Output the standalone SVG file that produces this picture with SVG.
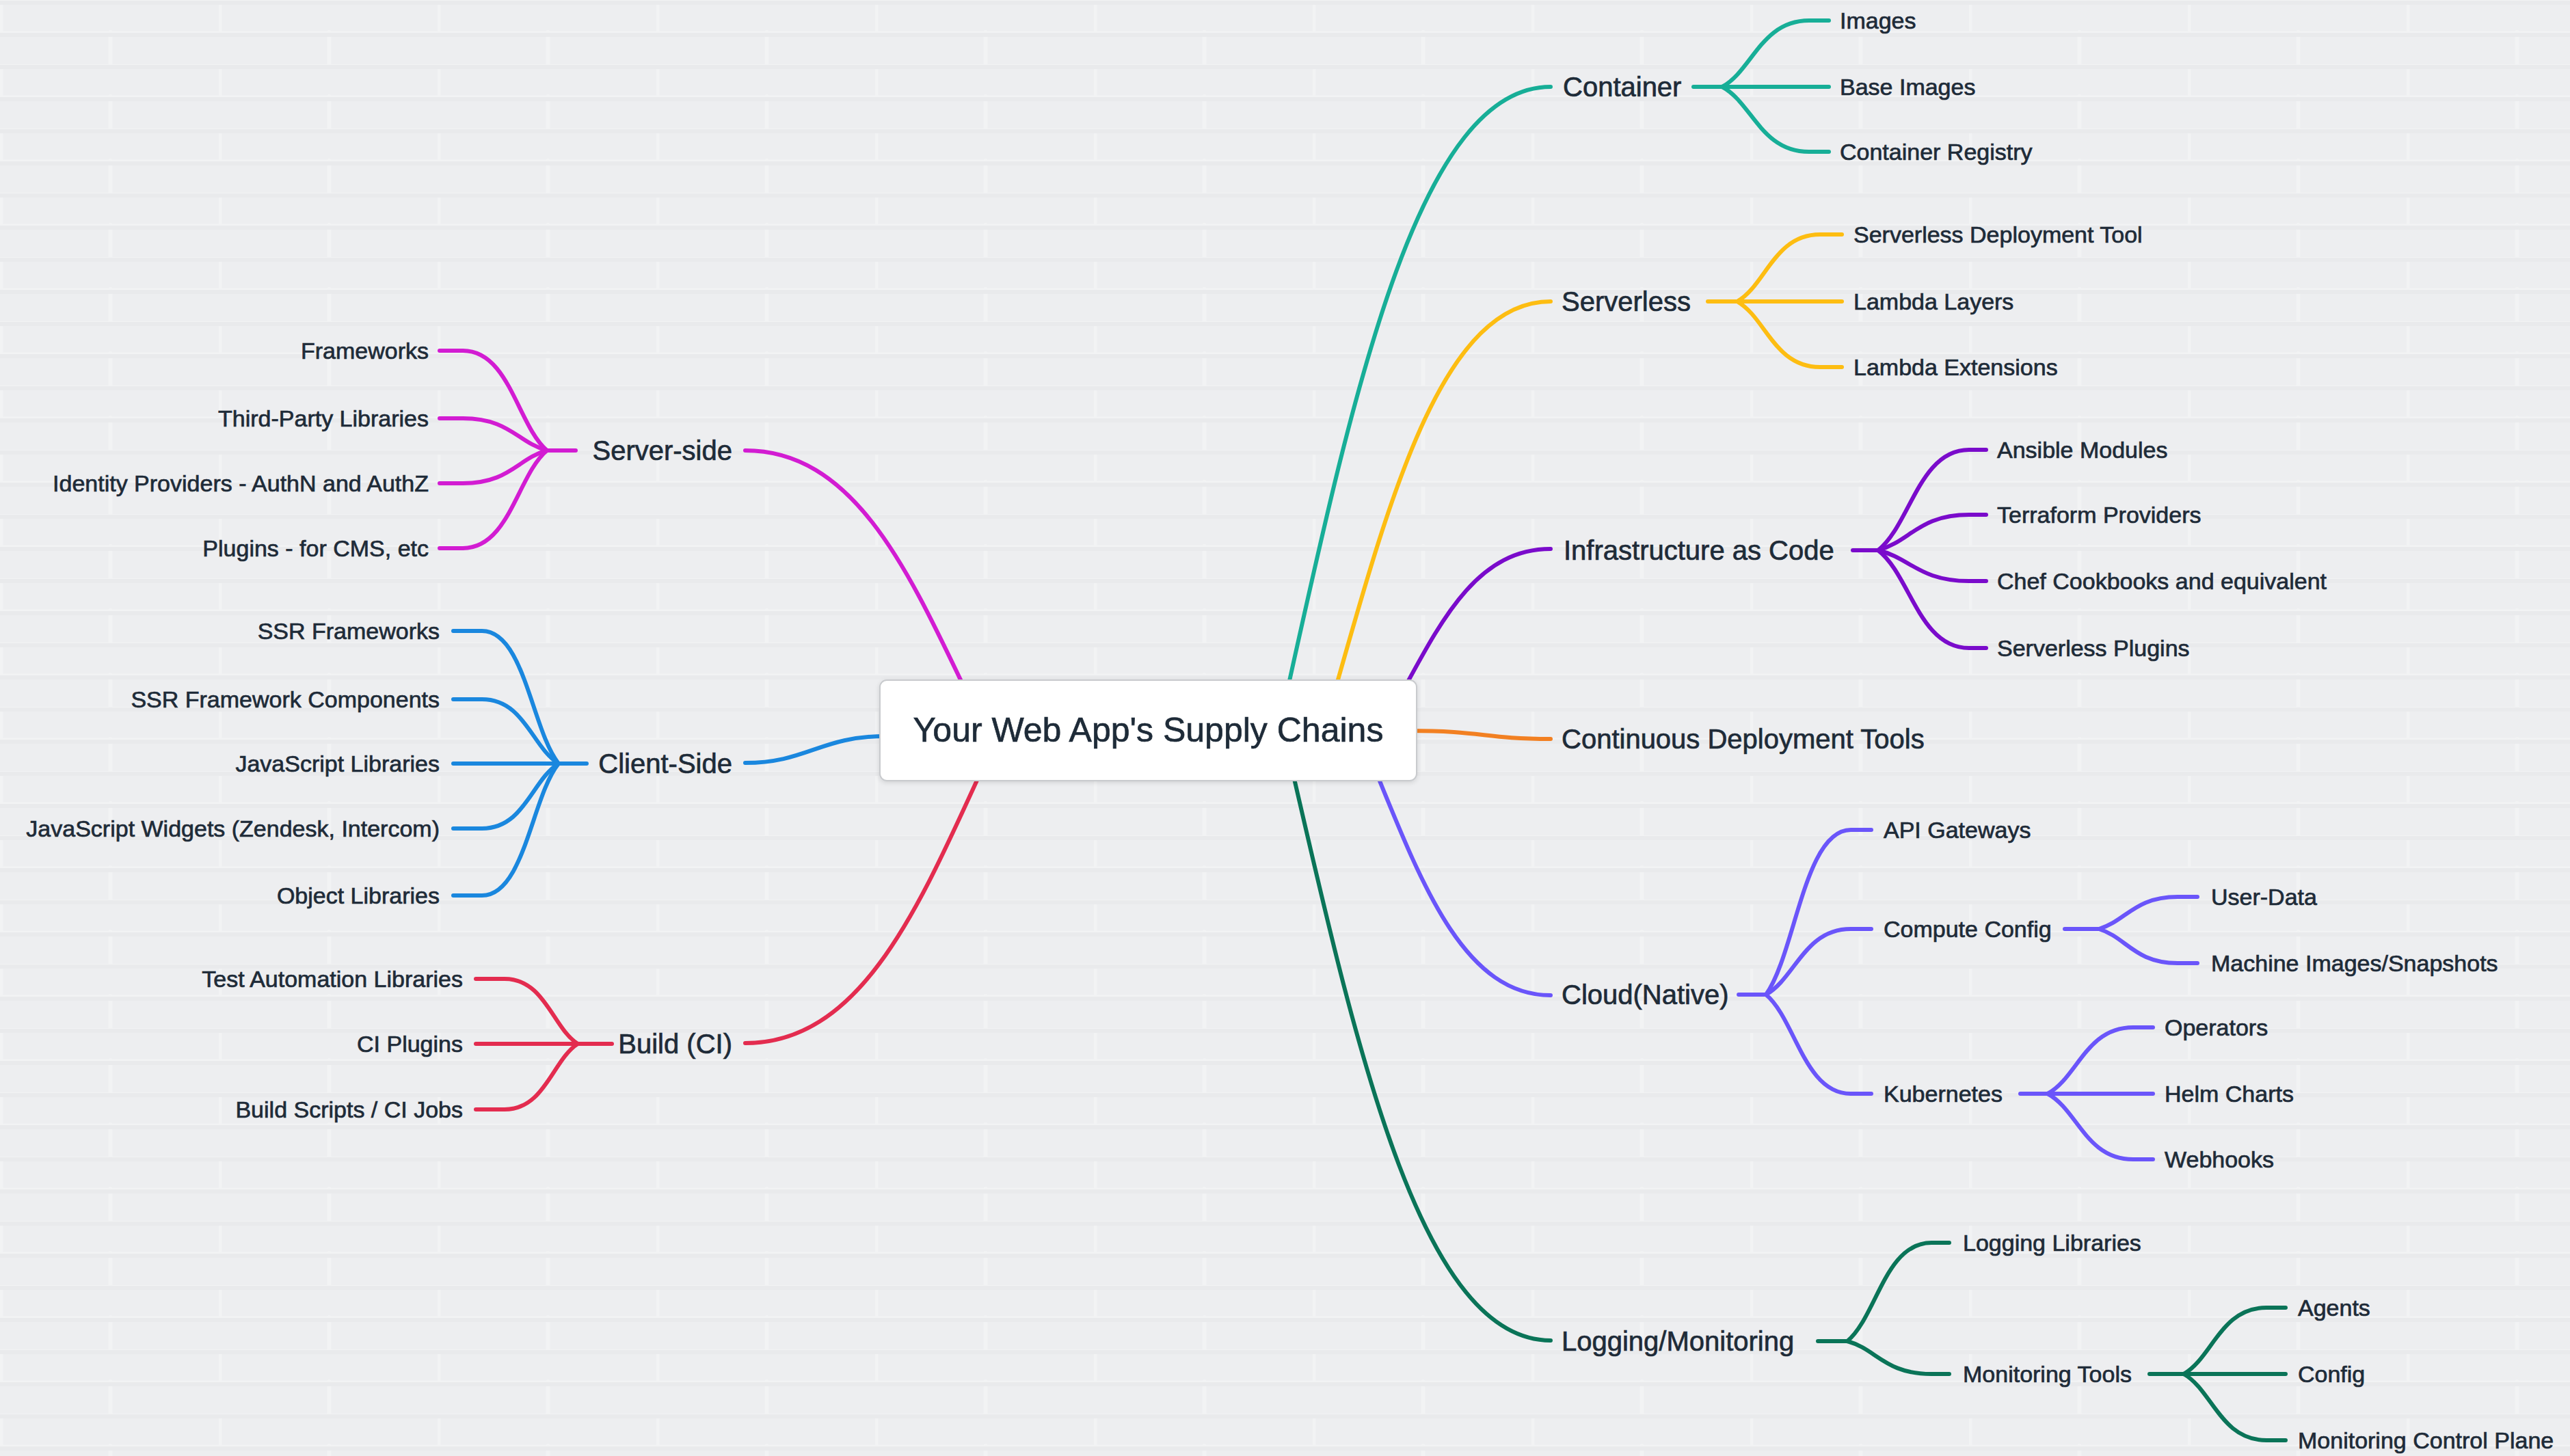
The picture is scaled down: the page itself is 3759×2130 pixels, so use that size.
<svg xmlns="http://www.w3.org/2000/svg" width="3759" height="2130" viewBox="0 0 3759 2130">
<defs>
<pattern id="brick" width="320" height="94" patternUnits="userSpaceOnUse">
<rect width="320" height="94" fill="#EDEEF0"/>
<path d="M0,1.5 H320 M0,48.5 H320 M1.5,0 V47 M161.5,47 V94" stroke="#F2F3F4" stroke-width="3" fill="none"/>
<path d="M0,4 H320 M0,51 H320" stroke="#E9EAEC" stroke-width="1" fill="none"/>
</pattern>
<filter id="sh" x="-5%" y="-10%" width="110%" height="130%">
<feDropShadow dx="0" dy="2" stdDeviation="3" flood-color="#000" flood-opacity="0.12"/>
</filter>
</defs>
<style>
text{font-family:"Liberation Sans",Arial,sans-serif;fill:#1E2B38;stroke:#1E2B38;stroke-width:0.7;dominant-baseline:central}
.main{font-size:40px}
.sub{font-size:34px}
.title{font-size:50px}
.l{text-anchor:end}
path{fill:none;stroke-width:6;stroke-linecap:round}
.c-server{stroke:#D21CD2}
.c-client{stroke:#1A87DE}
.c-build{stroke:#E32C4F}
.c-container{stroke:#17AE97}
.c-serverless{stroke:#FDBD12}
.c-iac{stroke:#7A0BCB}
.c-cd{stroke:#F28022}
.c-cloud{stroke:#6A55FA}
.c-log{stroke:#0A7458}
</style>
<rect width="3759" height="2130" fill="url(#brick)"/>

<g id="connectors">
<!-- main connectors -->
<path class="c-server" d="M1410,1005 C1325,827 1246,659 1090,659"/>
<path class="c-client" d="M1295,1077 C1200,1077 1180,1116 1090,1116"/>
<path class="c-build" d="M1432,1135 C1341,1334 1257,1526 1090,1526"/>
<path class="c-container" d="M1884,1005 C1982,562 2077,127 2268,127"/>
<path class="c-serverless" d="M1954,1005 C2035,719 2112,441 2268,441"/>
<path class="c-iac" d="M2055,1005 C2112,900 2164,803 2268,803"/>
<path class="c-cd" d="M2060,1069 C2170,1069 2170,1081 2268,1081"/>
<path class="c-cloud" d="M2015,1135 C2082,1300 2144,1456 2268,1456"/>
<path class="c-log" d="M1892,1135 C1988,1552 2082,1961 2268,1961"/>

<!-- Server-side children -->
<path class="c-server" d="M842,659 H800"/>
<path class="c-server" d="M800,659 C757,622 745,513 677,513 H643"/>
<path class="c-server" d="M800,659 C757,647 745,612 677,612 H643"/>
<path class="c-server" d="M800,659 C757,671 745,707 677,707 H643"/>
<path class="c-server" d="M800,659 C757,695 745,802 677,802 H643"/>

<!-- Client-Side children -->
<path class="c-client" d="M858,1117 H817"/>
<path class="c-client" d="M817,1117 C778,1068 767,923 705,923 H663"/>
<path class="c-client" d="M817,1117 C778,1093 767,1023 705,1023 H663"/>
<path class="c-client" d="M817,1117 H663"/>
<path class="c-client" d="M817,1117 C778,1141 767,1212 705,1212 H663"/>
<path class="c-client" d="M817,1117 C778,1165 767,1310 705,1310 H663"/>

<!-- Build children -->
<path class="c-build" d="M895,1527 H845"/>
<path class="c-build" d="M845,1527 C808,1503 797,1432 738,1432 H696"/>
<path class="c-build" d="M845,1527 H696"/>
<path class="c-build" d="M845,1527 C808,1551 797,1623 738,1623 H696"/>

<!-- Container children -->
<path class="c-container" d="M2477,127 H2519"/>
<path class="c-container" d="M2519,127 C2563,103 2576,30 2646,30 H2675"/>
<path class="c-container" d="M2519,127 H2675"/>
<path class="c-container" d="M2519,127 C2563,151 2576,222 2646,222 H2675"/>

<!-- Serverless children -->
<path class="c-serverless" d="M2498,441 H2541"/>
<path class="c-serverless" d="M2541,441 C2583,417 2595,343 2662,343 H2694"/>
<path class="c-serverless" d="M2541,441 H2694"/>
<path class="c-serverless" d="M2541,441 C2583,465 2595,537 2662,537 H2694"/>

<!-- IaC children -->
<path class="c-iac" d="M2710,805 H2747"/>
<path class="c-iac" d="M2747,805 C2794,768 2807,658 2880,658 H2905"/>
<path class="c-iac" d="M2747,805 C2794,792 2807,753 2880,753 H2905"/>
<path class="c-iac" d="M2747,805 C2794,816 2807,850 2880,850 H2905"/>
<path class="c-iac" d="M2747,805 C2794,841 2807,948 2880,948 H2905"/>

<!-- Cloud children -->
<path class="c-cloud" d="M2543,1455 H2583"/>
<path class="c-cloud" d="M2583,1455 C2626,1395 2639,1214 2707,1214 H2737"/>
<path class="c-cloud" d="M2583,1455 C2626,1431 2639,1359 2707,1359 H2737"/>
<path class="c-cloud" d="M2583,1455 C2626,1491 2639,1600 2707,1600 H2737"/>
<path class="c-cloud" d="M3020,1359 H3070"/>
<path class="c-cloud" d="M3070,1359 C3110,1347 3122,1312 3185,1312 H3214"/>
<path class="c-cloud" d="M3070,1359 C3110,1371 3122,1409 3185,1409 H3214"/>
<path class="c-cloud" d="M2955,1600 H2995"/>
<path class="c-cloud" d="M2995,1600 C3039,1576 3051,1503 3120,1503 H3149"/>
<path class="c-cloud" d="M2995,1600 H3149"/>
<path class="c-cloud" d="M2995,1600 C3039,1624 3051,1696 3120,1696 H3149"/>

<!-- Logging children -->
<path class="c-log" d="M2659,1962 H2702"/>
<path class="c-log" d="M2702,1962 C2745,1926 2757,1818 2825,1818 H2851"/>
<path class="c-log" d="M2702,1962 C2745,1974 2757,2010 2825,2010 H2851"/>
<path class="c-log" d="M3144,2010 H3194"/>
<path class="c-log" d="M3194,2010 C3236,1986 3248,1913 3315,1913 H3343"/>
<path class="c-log" d="M3194,2010 H3343"/>
<path class="c-log" d="M3194,2010 C3236,2034 3248,2107 3315,2107 H3343"/>
</g>

<g id="root">
<rect x="1287" y="995" width="785" height="147" rx="10" fill="#FFFFFF" stroke="#C9CBCE" stroke-width="2" filter="url(#sh)"/>
<text class="title" x="1679.5" y="1068" text-anchor="middle">Your Web App's Supply Chains</text>
</g>

<g id="server-side">
<text class="main l" x="1071" y="659">Server-side</text>
<g id="server-side-children">
<text class="sub l" x="627" y="513">Frameworks</text>
<text class="sub l" x="627" y="612">Third-Party Libraries</text>
<text class="sub l" x="627" y="707">Identity Providers - AuthN and AuthZ</text>
<text class="sub l" x="627" y="802">Plugins - for CMS, etc</text>
</g>
</g>

<g id="client-side">
<text class="main l" x="1071" y="1117">Client-Side</text>
<g id="client-side-children">
<text class="sub l" x="643" y="923">SSR Frameworks</text>
<text class="sub l" x="643" y="1023">SSR Framework Components</text>
<text class="sub l" x="643" y="1117">JavaScript Libraries</text>
<text class="sub l" x="643" y="1212">JavaScript Widgets (Zendesk, Intercom)</text>
<text class="sub l" x="643" y="1310">Object Libraries</text>
</g>
</g>

<g id="build-ci">
<text class="main l" x="1071" y="1527">Build (CI)</text>
<g id="build-ci-children">
<text class="sub l" x="677" y="1432">Test Automation Libraries</text>
<text class="sub l" x="677" y="1527">CI Plugins</text>
<text class="sub l" x="677" y="1623">Build Scripts / CI Jobs</text>
</g>
</g>

<g id="container">
<text class="main" x="2286" y="127">Container</text>
<g id="container-children">
<text class="sub" x="2691" y="30">Images</text>
<text class="sub" x="2691" y="127">Base Images</text>
<text class="sub" x="2691" y="222">Container Registry</text>
</g>
</g>

<g id="serverless">
<text class="main" x="2284" y="441">Serverless</text>
<g id="serverless-children">
<text class="sub" x="2711" y="343">Serverless Deployment Tool</text>
<text class="sub" x="2711" y="441">Lambda Layers</text>
<text class="sub" x="2711" y="537">Lambda Extensions</text>
</g>
</g>

<g id="iac">
<text class="main" x="2287" y="805">Infrastructure as Code</text>
<g id="iac-children">
<text class="sub" x="2921" y="658">Ansible Modules</text>
<text class="sub" x="2921" y="753">Terraform Providers</text>
<text class="sub" x="2921" y="850">Chef Cookbooks and equivalent</text>
<text class="sub" x="2921" y="948">Serverless Plugins</text>
</g>
</g>

<g id="cd-tools">
<text class="main" x="2284" y="1081">Continuous Deployment Tools</text>
</g>

<g id="cloud-native">
<text class="main" x="2284" y="1455">Cloud(Native)</text>
<g id="cloud-children">
<text class="sub" x="2755" y="1214">API Gateways</text>
<g id="compute-config">
<text class="sub" x="2755" y="1359">Compute Config</text>
<text class="sub" x="3234" y="1312">User-Data</text>
<text class="sub" x="3234" y="1409">Machine Images/Snapshots</text>
</g>
<g id="kubernetes">
<text class="sub" x="2755" y="1600">Kubernetes</text>
<text class="sub" x="3166" y="1503">Operators</text>
<text class="sub" x="3166" y="1600">Helm Charts</text>
<text class="sub" x="3166" y="1696">Webhooks</text>
</g>
</g>
</g>

<g id="logging-monitoring">
<text class="main" x="2284" y="1962">Logging/Monitoring</text>
<g id="logging-children">
<text class="sub" x="2871" y="1818">Logging Libraries</text>
<g id="monitoring-tools">
<text class="sub" x="2871" y="2010">Monitoring Tools</text>
<text class="sub" x="3361" y="1913">Agents</text>
<text class="sub" x="3361" y="2010">Config</text>
<text class="sub" x="3361" y="2107">Monitoring Control Plane</text>
</g>
</g>
</g>
</svg>
